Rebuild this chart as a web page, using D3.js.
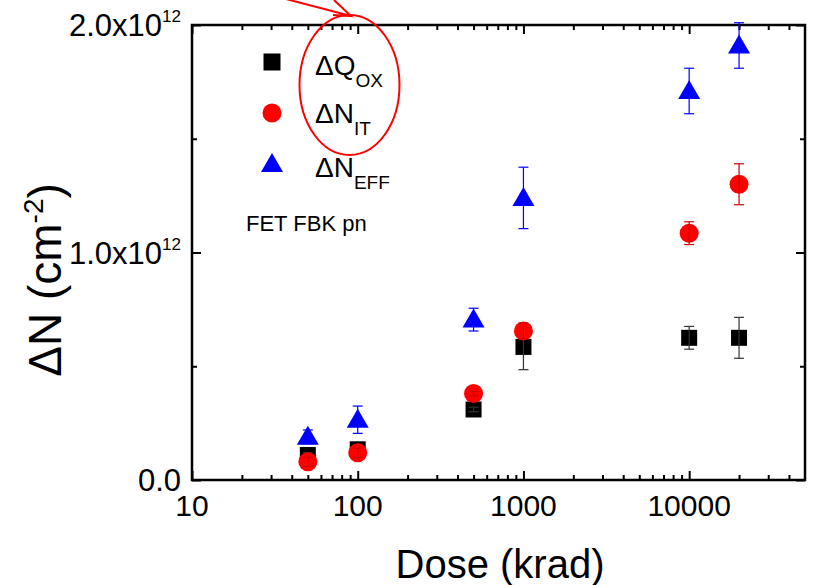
<!DOCTYPE html>
<html>
<head>
<meta charset="utf-8">
<script src="https://cdn.jsdelivr.net/npm/d3@7"></script>
<style>
  html, body { margin: 0; padding: 0; background: #fff; }
  svg { display: block; font-family: "Liberation Sans", Arial, sans-serif; }
</style>
</head>
<body>
<svg id="chart" width="813" height="585"></svg>
<script>
// ---- data (values in units of 1e12 cm^-2) ----
const doses = [50, 100, 500, 1000, 10000, 20000];
const qox     = [0.11, 0.135, 0.31, 0.585, 0.625, 0.625];
const qoxErr  = [0.01, 0.01, 0.01, 0.10, 0.05, 0.09];
const nit     = [0.08, 0.12, 0.38, 0.655, 1.085, 1.30];
const nitErr  = [0.02, 0.02, 0.01, 0.035, 0.05, 0.09];
const neff    = [0.19, 0.265, 0.705, 1.24, 1.71, 1.91];
const neffErr = [0.03, 0.06, 0.05, 0.135, 0.10, 0.10];
const xMajorTicks = [10, 100, 1000, 10000];
const xTickLabels = ["10", "100", "1000", "10000"];
const yMajorTicks = [0, 1, 2];
const yTickLabels = [["0.0", ""], ["1.0x10", "12"], ["2.0x10", "12"]];
const yMinorTicks = [0.5, 1.5];
const legendLabels = [["\u0394Q", "OX"], ["\u0394N", "IT"], ["\u0394N", "EFF"]];
const noteText = "FET FBK pn";

const svg = d3.select("#chart");
const L = 192, R = 805, T = 25, B = 480;
const x = d3.scaleLog().domain([10, 50000]).range([L, R]);
const y = d3.scaleLinear().domain([0, 2]).range([B, T]);

// minor x ticks
const xMinorTicks = [];
for (let d = 10; d < 50000; d *= 10) {
  for (let k = 2; k <= 9; k++) { const v = d * k; if (v < 50000) xMinorTicks.push(v); }
}

function styleAxis(g) {
  g.select(".domain").remove();
  g.selectAll(".tick line").attr("stroke", "#000").attr("stroke-width", 2);
}
const MAJ = 9, MIN = 5;
// bottom
svg.append("g").attr("transform", `translate(0,${B})`)
  .call(d3.axisBottom(x).tickValues(xMajorTicks).tickSize(-MAJ).tickFormat(""))
  .call(styleAxis);
svg.append("g").attr("transform", `translate(0,${B})`)
  .call(d3.axisBottom(x).tickValues(xMinorTicks).tickSize(-MIN).tickFormat(""))
  .call(styleAxis);
// top
svg.append("g").attr("transform", `translate(0,${T})`)
  .call(d3.axisTop(x).tickValues(xMajorTicks).tickSize(-MAJ).tickFormat(""))
  .call(styleAxis);
svg.append("g").attr("transform", `translate(0,${T})`)
  .call(d3.axisTop(x).tickValues(xMinorTicks).tickSize(-MIN).tickFormat(""))
  .call(styleAxis);
// left
svg.append("g").attr("transform", `translate(${L},0)`)
  .call(d3.axisLeft(y).tickValues(yMajorTicks).tickSize(-MAJ).tickFormat(""))
  .call(styleAxis);
svg.append("g").attr("transform", `translate(${L},0)`)
  .call(d3.axisLeft(y).tickValues(yMinorTicks).tickSize(-MIN).tickFormat(""))
  .call(styleAxis);
// right
svg.append("g").attr("transform", `translate(${R},0)`)
  .call(d3.axisRight(y).tickValues(yMajorTicks).tickSize(-MAJ).tickFormat(""))
  .call(styleAxis);
svg.append("g").attr("transform", `translate(${R},0)`)
  .call(d3.axisRight(y).tickValues(yMinorTicks).tickSize(-MIN).tickFormat(""))
  .call(styleAxis);

// frame
svg.append("rect").attr("x", L).attr("y", T).attr("width", R - L).attr("height", B - T)
  .attr("fill", "none").attr("stroke", "#000").attr("stroke-width", 2.5);

// x tick labels
svg.append("g").selectAll("text").data(xMajorTicks).join("text")
  .attr("x", d => x(d)).attr("y", B + 36)
  .attr("text-anchor", "middle").attr("font-size", 30).attr("fill", "#000")
  .text((d, i) => xTickLabels[i]);

// y tick labels with superscripts
const yl = svg.append("g").selectAll("text").data(yMajorTicks).join("text")
  .attr("x", L - 11)
  .attr("y", d => y(d) + 11)
  .attr("text-anchor", "end").attr("font-size", 31).attr("fill", "#000");
yl.each(function(d, i) {
  const t = d3.select(this);
  t.append("tspan").text(yTickLabels[i][0]);
  if (yTickLabels[i][1]) t.append("tspan").attr("dy", -14).attr("font-size", 17).text(yTickLabels[i][1]);
});

// axis titles
svg.append("text").attr("x", 500).attr("y", 578).attr("text-anchor", "middle")
  .attr("font-size", 40).attr("fill", "#000").text("Dose (krad)");
const yt = svg.append("text").attr("transform", "translate(61,280) rotate(-90)")
  .attr("text-anchor", "middle").attr("font-size", 46).attr("fill", "#000");
yt.append("tspan").text("\u0394N (cm");
yt.append("tspan").attr("dy", -18).attr("font-size", 28).text("-2");
yt.append("tspan").attr("dy", 18).text(")");

// marker shapes
function triPath(cx, cy) {
  return `M${cx},${cy - 11}L${cx + 11},${cy + 8}L${cx - 11},${cy + 8}Z`;
}
function errBars(g, vals, errs, color) {
  const cap = 5;
  doses.forEach((d, i) => {
    const cx = x(d), y1 = y(vals[i] - errs[i]), y2 = y(vals[i] + errs[i]);
    g.append("line").attr("x1", cx).attr("x2", cx).attr("y1", y1).attr("y2", y2);
    g.append("line").attr("x1", cx - cap).attr("x2", cx + cap).attr("y1", y1).attr("y2", y1);
    g.append("line").attr("x1", cx - cap).attr("x2", cx + cap).attr("y1", y2).attr("y2", y2);
  });
  g.attr("stroke", color).attr("stroke-width", 1.2);
}

const marks = svg.append("g");
// squares
marks.append("g").selectAll("rect").data(doses).join("rect")
  .attr("x", d => x(d) - 8).attr("y", (d, i) => y(qox[i]) - 8)
  .attr("width", 16).attr("height", 16).attr("fill", "#000");
errBars(marks.append("g"), qox, qoxErr, "#333");
// circles
marks.append("g").selectAll("circle").data(doses).join("circle")
  .attr("cx", d => x(d)).attr("cy", (d, i) => y(nit[i])).attr("r", 9.5).attr("fill", "#ff0000");
errBars(marks.append("g"), nit, nitErr, "#d00000");
// triangles
marks.append("g").selectAll("path").data(doses).join("path")
  .attr("d", (d, i) => triPath(x(d), y(neff[i]))).attr("fill", "#0000ff");
errBars(marks.append("g"), neff, neffErr, "#0000ff");

// legend
const legY = [62, 113, 164];
const lg = svg.append("g");
lg.append("rect").attr("x", 272 - 8.5).attr("y", legY[0] - 8.5).attr("width", 17).attr("height", 17).attr("fill", "#000");
lg.append("circle").attr("cx", 272).attr("cy", legY[1]).attr("r", 9.5).attr("fill", "#ff0000");
lg.append("path").attr("d", triPath(272, legY[2])).attr("fill", "#0000ff");
const baseY = [75, 123, 177];
legendLabels.forEach((lab, i) => {
  const t = lg.append("text").attr("x", 315).attr("y", baseY[i]).attr("font-size", 28).attr("fill", "#000");
  t.append("tspan").text(lab[0]);
  t.append("tspan").attr("dy", 12).attr("font-size", 19).text(lab[1]);
});
lg.append("text").attr("x", 246).attr("y", 231).attr("font-size", 22).attr("fill", "#000").text(noteText);

// annotation: red ellipse and arrow
const ann = svg.append("g").attr("stroke", "#ff0000").attr("fill", "none").attr("stroke-width", 2);
ann.append("ellipse").attr("cx", 349.5).attr("cy", 85).attr("rx", 50).attr("ry", 70);
ann.append("path").attr("d", "M286,-1L351,16M334,0L351,16L333,15");
</script>
</body>
</html>
